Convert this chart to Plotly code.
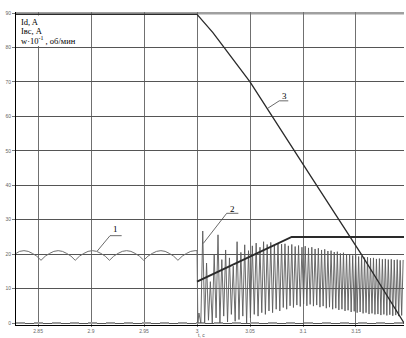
import plotly.graph_objects as go

# ---------------- data ----------------
x_tick_vals = [2.85, 2.9, 2.95, 3.0, 3.05, 3.1, 3.15]
x_tick_text = ["2.85", "2.9", "2.95", "3", "3.05", "3.1", "3.15"]
y_tick_vals = [0, 10, 20, 30, 40, 50, 60, 70, 80, 90]

# curve 1: Id before switching (rectified ripple)
ripple_t = [2.8292, 2.8326, 2.8367, 2.8407, 2.8447, 2.8488, 2.8528,
            2.8568, 2.8609, 2.8649, 2.8690, 2.8730, 2.8770, 2.8811, 2.8851,
            2.8891, 2.8932, 2.8972, 2.9013, 2.9053, 2.9093, 2.9134, 2.9174,
            2.9214, 2.9255, 2.9295, 2.9336, 2.9376, 2.9416, 2.9457, 2.9497,
            2.9537, 2.9578, 2.9618, 2.9659, 2.9699, 2.9739, 2.9780, 2.9820,
            2.9860, 2.9901, 2.9941, 2.9982, 3.0, 3.0008]
ripple_v = [20.2, 20.8, 21.0, 20.8, 20.2, 19.4, 18.2,
            19.4, 20.2, 20.8, 21.0, 20.8, 20.2, 19.4, 18.2,
            19.4, 20.2, 20.8, 21.0, 20.8, 20.2, 19.4, 18.2,
            19.4, 20.2, 20.8, 21.0, 20.8, 20.2, 19.4, 18.2,
            19.4, 20.2, 20.8, 21.0, 20.8, 20.2, 19.4, 18.2,
            19.4, 20.2, 20.8, 21.0, 21.0, 0.0]

# curve 2: Id after switching (oscillating) - peaks and troughs
osc_peak_t = [3.0018, 3.0054, 3.0090, 3.0126, 3.0162, 3.0198, 3.0234, 3.0270,
              3.0306, 3.0342, 3.0378, 3.0414, 3.0450, 3.0486, 3.0522, 3.0558,
              3.0594, 3.0628, 3.0662, 3.0696, 3.0730, 3.0764, 3.0798, 3.0830,
              3.0862, 3.0894, 3.0926, 3.0958, 3.0990, 3.1021, 3.1052, 3.1083,
              3.1114, 3.1145, 3.1175, 3.1205, 3.1235, 3.1265, 3.1295, 3.1324,
              3.1353, 3.1382, 3.1411, 3.1440, 3.1469, 3.1497, 3.1525, 3.1553,
              3.1581, 3.1609, 3.1637, 3.1665, 3.1693, 3.1721, 3.1749, 3.1777,
              3.1805, 3.1833, 3.1861, 3.1889, 3.1917, 3.1945]
osc_peak_v = [2.9, 26.7, 17.4, 12.0, 19.9, 25.6, 18.4, 21.2,
              18.9, 16.5, 23.6, 20.5, 22.7, 21.0, 22.4, 23.2,
              22.0, 23.6, 22.8, 23.4, 22.6, 23.2, 22.9, 23.0,
              22.4, 22.8, 22.2, 22.5, 22.0, 22.3, 21.8, 22.0,
              21.5, 21.7, 21.2, 21.4, 20.9, 21.0, 20.6, 20.7,
              20.2, 20.4, 19.9, 20.0, 19.6, 19.7, 19.3, 19.4,
              19.0, 19.1, 18.8, 18.9, 18.6, 18.7, 18.5, 18.6,
              18.4, 18.5, 18.3, 18.4, 18.2, 18.3]
osc_trough_v = [0.0, 0.0, 0.8, 0.0, 1.5, 0.0, 2.0, 0.3,
                2.5, 0.5, 1.0, 2.0, 0.0, 1.5, 2.5, 2.0,
                3.0, 2.5, 3.5, 3.0, 4.0, 3.5, 4.5, 4.0,
                5.0, 4.5, 5.2, 4.8, 5.5, 5.0, 5.4, 4.9,
                5.2, 4.6, 4.9, 4.3, 4.6, 4.0, 4.3, 3.8,
                4.0, 3.5, 3.7, 3.2, 3.4, 3.0, 3.2, 2.8,
                3.0, 2.6, 2.8, 2.5, 2.6, 2.3, 2.5, 2.2,
                2.4, 2.1, 2.3, 2.0, 2.2]

# thick reference-current line
ref_t = [3.0, 3.0893, 3.1953]
ref_v = [12.0, 25.0, 25.0]

# curve 3: speed w*10^-1
speed_t = [2.8292, 3.0, 3.015, 3.05, 3.1094, 3.1554, 3.1953]
speed_v = [89.6, 89.6, 84.3, 70.0, 41.6, 19.8, 0.0]

# ---------------- build oscillation polyline ----------------
osc_t = [3.0008]
osc_v = [0.0]
for i, (pt, pv) in enumerate(zip(osc_peak_t, osc_peak_v)):
    osc_t.append(pt)
    osc_v.append(pv)
    if i < len(osc_trough_v):
        osc_t.append((pt + osc_peak_t[i + 1]) / 2)
        osc_v.append(osc_trough_v[i])

X0, X1 = 2.8292, 3.1953
Y0, Y1 = -0.58, 90.29

fig = go.Figure()
# grey band at zero
fig.add_trace(go.Scatter(x=[X0, X1], y=[0, 0], mode="lines",
                         line=dict(color="#9a9a9a", width=2, dash="dash"),
                         hoverinfo="skip", showlegend=False))
fig.add_trace(go.Scatter(x=ripple_t, y=ripple_v, mode="lines",
                         line=dict(color="#6e6e6e", width=1), showlegend=False))
fig.add_trace(go.Scatter(x=osc_t, y=osc_v, mode="lines",
                         line=dict(color="#5a5a5a", width=0.9), showlegend=False))
fig.add_trace(go.Scatter(x=ref_t, y=ref_v, mode="lines",
                         line=dict(color="#2a2a2a", width=2), showlegend=False))
fig.add_trace(go.Scatter(x=speed_t, y=speed_v, mode="lines",
                         line=dict(color="#2a2a2a", width=1.3), showlegend=False))

shapes = [
    # top grey band
    dict(type="line", xref="x", yref="y", x0=X0, x1=X1, y0=90, y1=90,
         line=dict(color="#a0a0a0", width=3), layer="below"),
    # white box behind the axis text
    dict(type="rect", xref="x", yref="y", x0=X0 + 0.0005, x1=2.8764, y0=80.4, y1=89.3,
         fillcolor="white", line=dict(width=0), layer="above"),
    # leader lines
    dict(type="line", xref="x", yref="y", x0=2.9179, x1=2.9289, y0=25.35, y1=25.35,
         line=dict(color="#444", width=0.8)),
    dict(type="line", xref="x", yref="y", x0=2.9179, x1=2.9059, y0=25.35, y1=20.9,
         line=dict(color="#444", width=0.8)),
    dict(type="line", xref="x", yref="y", x0=3.028, x1=3.039, y0=31.85, y1=31.85,
         line=dict(color="#444", width=0.8)),
    dict(type="line", xref="x", yref="y", x0=3.028, x1=3.0059, y0=31.85, y1=23.1,
         line=dict(color="#444", width=0.8)),
    dict(type="line", xref="x", yref="y", x0=3.0776, x1=3.0861, y0=64.5, y1=64.5,
         line=dict(color="#444", width=0.8)),
    dict(type="line", xref="x", yref="y", x0=3.0776, x1=3.067, y0=64.5, y1=62.4,
         line=dict(color="#444", width=0.8)),
]

serif = "Liberation Serif, Times New Roman, serif"
annotations = [
    dict(xref="paper", yref="paper", x=0.008, y=1 - (22 - 12) / 313, text="Id, A",
         showarrow=False, xanchor="left", yanchor="middle",
         font=dict(family=serif, size=8.5, color="black")),
    dict(xref="paper", yref="paper", x=0.008, y=1 - (31 - 12) / 313, text="Iвс, A",
         showarrow=False, xanchor="left", yanchor="middle",
         font=dict(family=serif, size=8.5, color="black")),
    dict(xref="paper", yref="paper", x=0.008, y=1 - (40.5 - 12) / 313,
         text="w·10<sup>-1</sup> , об/мин",
         showarrow=False, xanchor="left", yanchor="middle",
         font=dict(family=serif, size=8.5, color="black")),
    dict(xref="x", yref="y", x=2.9233, y=27.3, text="1", showarrow=False,
         font=dict(family=serif, size=9, color="black")),
    dict(xref="x", yref="y", x=3.0337, y=33.2, text="2", showarrow=False,
         font=dict(family=serif, size=9, color="black")),
    dict(xref="x", yref="y", x=3.0824, y=66.0, text="3", showarrow=False,
         font=dict(family=serif, size=9, color="black")),
    dict(xref="paper", yref="paper", x=(201 - 16) / 388, y=-0.046, text="t, c",
         showarrow=False, xanchor="center", yanchor="bottom", borderpad=0,
         font=dict(family="Arial, sans-serif", size=5, color="#555")),
]

fig.update_layout(
    width=406, height=338,
    margin=dict(l=16, r=2, t=12, b=13),
    paper_bgcolor="white", plot_bgcolor="white",
    shapes=shapes, annotations=annotations,
    xaxis=dict(range=[X0, X1], tickvals=x_tick_vals, ticktext=x_tick_text,
               showgrid=True, gridcolor="#707070", gridwidth=1,
               zeroline=False, showline=True, linecolor="black", linewidth=1,
               ticks="outside", ticklen=1, tickcolor="#777",
               tickfont=dict(family="Arial, sans-serif", size=5, color="#666")),
    yaxis=dict(range=[Y0, Y1], tickvals=y_tick_vals,
               showgrid=True, gridcolor="#555555", gridwidth=1,
               zeroline=False, showline=True, linecolor="black", linewidth=1,
               ticks="outside", ticklen=3, tickcolor="#777",
               tickfont=dict(family="Arial, sans-serif", size=5, color="#666")),
)

fig.write_html("out.html",
               config={"displayModeBar": False},
               post_script="document.body.style.margin='0';"
                           "document.body.style.overflow='hidden';")
